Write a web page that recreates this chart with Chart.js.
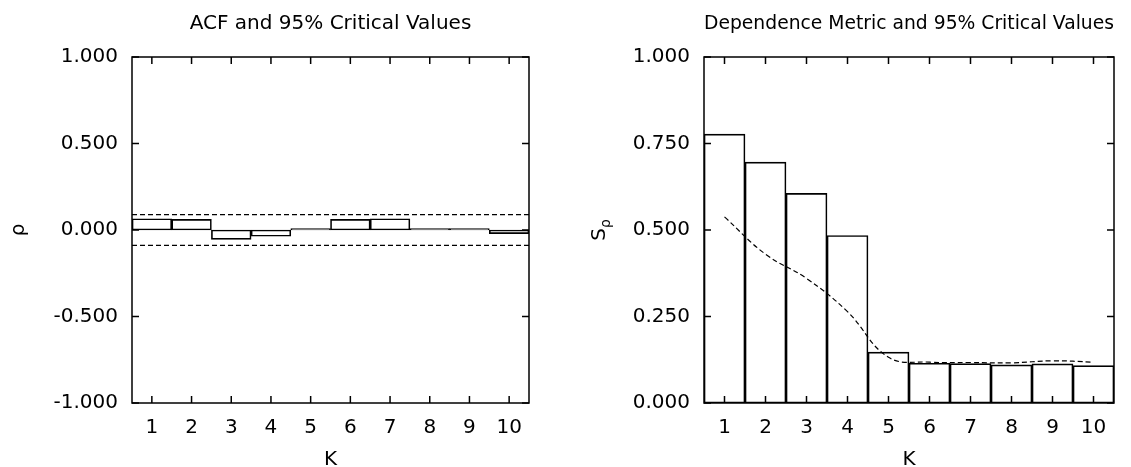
<!DOCTYPE html>
<html>
<head>
<meta charset="utf-8">
<script src="https://cdn.jsdelivr.net/npm/chart.js@4.4.1/dist/chart.umd.min.js"></script>
<style>
  body { margin: 0; background: #fff; }
  .panel { position: absolute; top: 0; height: 467px; }
  #leftPanel { left: 0; width: 565px; }
  #rightPanel { left: 565px; width: 566px; }
</style>
</head>
<body>
<div class="panel" id="leftPanel"><canvas id="acfChart"></canvas></div>
<div class="panel" id="rightPanel"><canvas id="depChart"></canvas></div>
<script>
// lags on the x axis
const lags = [1, 2, 3, 4, 5, 6, 7, 8, 9, 10];

// left panel: autocorrelation and its 95% band
const acfValues = [0.065, 0.061, -0.054, -0.036, 0.004, 0.061, 0.065, 0.001, 0.008, -0.021];
const acfCritical = 0.089;
const acfBandX = [0.5, 10.5];
const acfTicks = [-1, -0.5, 0, 0.5, 1];

// right panel: dependence metric and its 95% critical values
const depValues = [0.777, 0.696, 0.606, 0.484, 0.147, 0.115, 0.114, 0.110, 0.113, 0.108];
const depCritical = [0.538, 0.430, 0.360, 0.264, 0.132, 0.118, 0.117, 0.116, 0.122, 0.118];
const depTicks = [0, 0.25, 0.5, 0.75, 1];

Chart.defaults.font.family = "'DejaVu Sans', sans-serif";
Chart.defaults.font.size = 20;
Chart.defaults.color = '#000';

// box round the plot, inward ticks, axis titles
const framePlugin = {
  id: 'frame',
  afterDatasetsDraw(chart, args, opts) {
    const ctx = chart.ctx;
    const { left, right, top, bottom } = chart.chartArea;
    const xs = chart.scales.x, ys = chart.scales.y;
    const tl = 7;
    ctx.save();
    ctx.strokeStyle = '#000';
    ctx.lineWidth = 1.5;
    ctx.strokeRect(left, top, right - left, bottom - top);
    ctx.beginPath();
    ys.ticks.forEach(t => {
      const py = ys.getPixelForValue(t.value);
      ctx.moveTo(left, py); ctx.lineTo(left + tl, py);
      ctx.moveTo(right - tl, py); ctx.lineTo(right, py);
    });
    xs.ticks.forEach((t, i) => {
      const px = xs.getPixelForTick(i);
      ctx.moveTo(px, bottom); ctx.lineTo(px, bottom - tl);
      ctx.moveTo(px, top); ctx.lineTo(px, top + tl);
    });
    ctx.stroke();

    ctx.fillStyle = '#000';
    ctx.font = "20px 'DejaVu Sans'";
    ctx.textAlign = 'center';
    ctx.textBaseline = 'alphabetic';
    ctx.fillText(opts.xTitle, (left + right) / 2, 465);

    // rotated y title with optional subscript
    ctx.translate(opts.yTitleX, (top + bottom) / 2);
    ctx.rotate(-Math.PI / 2);
    ctx.textAlign = 'left';
    const mainW = ctx.measureText(opts.yTitle).width;
    ctx.font = "14px 'DejaVu Sans'";
    const subW = opts.ySub ? ctx.measureText(opts.ySub).width : 0;
    const x0 = -(mainW + subW) / 2;
    ctx.font = "20px 'DejaVu Sans'";
    ctx.fillText(opts.yTitle, x0, 0);
    if (opts.ySub) {
      ctx.font = "14px 'DejaVu Sans'";
      ctx.fillText(opts.ySub, x0 + mainW, 5);
    }
    ctx.restore();
  }
};

function yScale(min, max, ticks, width) {
  return {
    min, max,
    grid: { display: false, drawTicks: false },
    border: { display: false },
    ticks: { padding: 14, callback: v => Number(v).toFixed(3) },
    afterBuildTicks: s => { s.ticks = ticks.map(v => ({ value: v })); },
    afterFit: s => { s.width = width; }
  };
}

function xScale(extra) {
  return Object.assign({
    grid: { display: false, drawTicks: false },
    border: { display: false },
    ticks: { padding: 13, autoSkip: false, maxRotation: 0 },
    afterFit: s => { s.height = 64; }
  }, extra || {});
}

function titleOpts(text) {
  return {
    display: true, text, fullSize: false,
    font: { size: 20, weight: 'normal', lineHeight: 1.2 },
    padding: { top: 12, bottom: 21 }
  };
}

const barStyle = {
  backgroundColor: 'rgba(255,255,255,0)',
  borderColor: '#000',
  borderWidth: 1,
  borderSkipped: false,
  minBarLength: 1.5,
  barPercentage: 1,
  categoryPercentage: 1
};

const dashStyle = {
  type: 'line', borderColor: '#000', borderWidth: 1.2,
  borderDash: [5, 3], pointRadius: 0, order: 0
};

new Chart(document.getElementById('acfChart'), {
  type: 'bar',
  data: {
    datasets: [
      { ...dashStyle, data: acfBandX.map(x => ({ x, y: acfCritical })) },
      { ...dashStyle, data: acfBandX.map(x => ({ x, y: -acfCritical })) },
      { data: lags.map((k, i) => ({ x: k, y: acfValues[i] })), ...barStyle, order: 1 }
    ]
  },
  options: {
    responsive: true, maintainAspectRatio: false, animation: false,
    layout: { padding: { left: 0, right: 36, top: 0, bottom: 0 } },
    plugins: {
      legend: { display: false }, tooltip: { enabled: false },
      title: titleOpts('ACF and 95% Critical Values'),
      frame: { xTitle: 'K', yTitle: 'ρ', ySub: '', yTitleX: 24 }
    },
    scales: {
      x: xScale({
        type: 'linear', min: acfBandX[0], max: acfBandX[1], offset: false,
        afterBuildTicks: s => { s.ticks = lags.map(v => ({ value: v })); }
      }),
      y: yScale(-1, 1, acfTicks, 132)
    }
  },
  plugins: [framePlugin]
});

new Chart(document.getElementById('depChart'), {
  type: 'bar',
  data: {
    labels: lags.map(String),
    datasets: [
      { ...dashStyle, data: depCritical, tension: 0.4 },
      { data: depValues, ...barStyle, order: 1 }
    ]
  },
  options: {
    responsive: true, maintainAspectRatio: false, animation: false,
    layout: { padding: { left: 0, right: 17, top: 0, bottom: 0 } },
    plugins: {
      legend: { display: false }, tooltip: { enabled: false },
      title: titleOpts('Dependence Metric and 95% Critical Values'),
      frame: { xTitle: 'K', yTitle: 'S', ySub: 'ρ', yTitleX: 40 }
    },
    scales: {
      x: xScale(),
      y: yScale(0, 1, depTicks, 139)
    }
  },
  plugins: [framePlugin]
});
</script>
</body>
</html>
